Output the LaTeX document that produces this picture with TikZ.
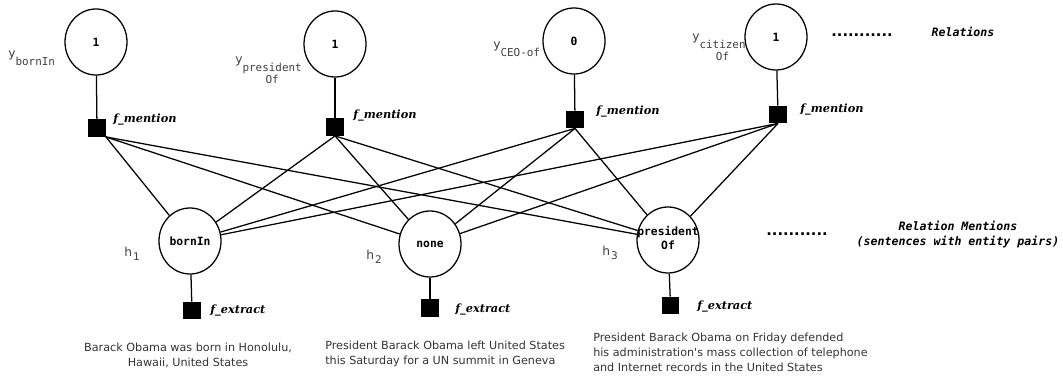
\documentclass[tikz,border=0pt]{standalone}
\usepackage{fontspec}
\setmainfont{DejaVu Sans}
\setmonofont{DejaVu Sans Mono}
\newfontfamily\serifbi{DejaVu Serif}
\usetikzlibrary{shapes.geometric}

\newcommand{\ylbl}[1]{y\raisebox{-6pt}{\fontsize{8.2}{9}\selectfont\ttfamily\begin{tabular}[t]{@{}c@{}}#1\end{tabular}}}
\newcommand{\hlbl}[1]{h\kern0.8pt\raisebox{-3pt}{\fontsize{7.9}{9}\selectfont #1}}
\newcommand{\inlbl}[1]{\makebox[0pt]{\begin{tabular}{@{}c@{}}#1\end{tabular}}}

\begin{document}
\begin{tikzpicture}[x=0.75pt,y=-0.75pt,every node/.style={inner sep=0pt},
    var/.style={ellipse,draw=black,line width=0.95pt,minimum width=46.5pt,minimum height=49.5pt,font=\fontsize{8.5}{10}\selectfont\ttfamily\bfseries},
    factor/.style={fill=black,minimum size=13pt},
    flabel/.style={anchor=west,font=\fontsize{8.5}{10}\selectfont\serifbi\bfseries\itshape},
    sublabel/.style={anchor=base west,text=black!75,font=\fontsize{9.2}{11}\selectfont},
    sentence/.style={text=black!80,font=\fontsize{8.4}{11.25}\selectfont},
    note/.style={align=center,font=\fontsize{8.7}{11.25}\selectfont\ttfamily\bfseries\itshape},
    more/.style={anchor=base,font=\fontsize{11}{12}\selectfont\bfseries},
    link/.style={line width=0.95pt}]
            \useasboundingbox (0,0) rectangle (1063,377);

            \node[var] (y1) at (96,42){1};
            \node[var] (y2) at (335,44){1};
            \node[var] (y3) at (574,41){0};
            \node[var] (y4) at (776,37){1};
            \node[sublabel] (ly1) at (8,58){\ylbl{bornIn}};
            \node[sublabel] (ly2) at (235,64){\ylbl{president\\Of}};
            \node[sublabel] (ly3) at (493,49){\ylbl{CEO-of}};
            \node[sublabel] (ly4) at (692,41){\ylbl{citizen\\Of}};

            \node[factor] (f1) at (97,128){};
            \node[factor] (f2) at (335,127){};
            \node[factor] (f3) at (575,119.5){};
            \node[factor] (f4) at (778,114.5){};
            \node[flabel] (lf1) at (113,120){f\_mention};
            \node[flabel] (lf2) at (353,116){f\_mention};
            \node[flabel] (lf3) at (596,112){f\_mention};
            \node[flabel] (lf4) at (800,110){f\_mention};
            \draw[link] (y1) -- (f1);
            \draw[link] (y2) -- (f2);
            \draw[link] (y3) -- (f3);
            \draw[link] (y4) -- (f4);

            \node[more] (dots1) at (862,37){...........};
            \node[note] (rel) at (963,32){Relations};

            \node[var] (h1) at (190,241){bornIn};
            \node[var] (h2) at (430,244){none};
            \node[var] (h3) at (668,240){\inlbl{president\\Of}};
            \node[sublabel] (lh1) at (124,257){\hlbl{1}};
            \node[sublabel] (lh2) at (366,260){\hlbl{2}};
            \node[sublabel] (lh3) at (602,256){\hlbl{3}};

            \draw[link] (f1.south east) -- (h1);
            \draw[link] (f1.south east) -- (h2);
            \draw[link] (f1.south east) -- (h3);
            \draw[link] (f2.south) -- (h1);
            \draw[link] (f2.south) -- (h2);
            \draw[link] (f2.south) -- (h3);
            \draw[link] (f3.south) -- (h1);
            \draw[link] (f3.south) -- (h2);
            \draw[link] (f3.south) -- (h3);
            \draw[link] (f4.south) -- (h1);
            \draw[link] (f4.south) -- (h2);
            \draw[link] (f4.south) -- (h3);

            \node[more] (dots2) at (797,236){...........};
            \node[note] (relm) at (958,234.5){Relation Mentions\\(sentences with entity pairs)};

            \node[factor] (e1) at (192,310.5){};
            \node[factor] (e2) at (430,308){};
            \node[factor] (e3) at (670.5,305.5){};
            \node[flabel] (le1) at (210,311){f\_extract};
            \node[flabel] (le2) at (455,310){f\_extract};
            \node[flabel] (le3) at (697,307){f\_extract};
            \draw[link] (h1) -- (e1);
            \draw[link] (h2) -- (e2);
            \draw[link] (h3) -- (e3);

            \node[sentence,align=center] (s1) at (188,355.5){Barack Obama was born in Honolulu,\\Hawaii, United States};
            \node[sentence,align=left,anchor=west] (s2) at (325,353.5){President Barack Obama left United States\\this Saturday for a UN summit in Geneva};
            \node[sentence,align=left,anchor=west] (s3) at (593,352){President Barack Obama on Friday defended\\his administration\textquotesingle s mass collection of telephone\\and Internet records in the United States};
        \end{tikzpicture}
\end{document}
